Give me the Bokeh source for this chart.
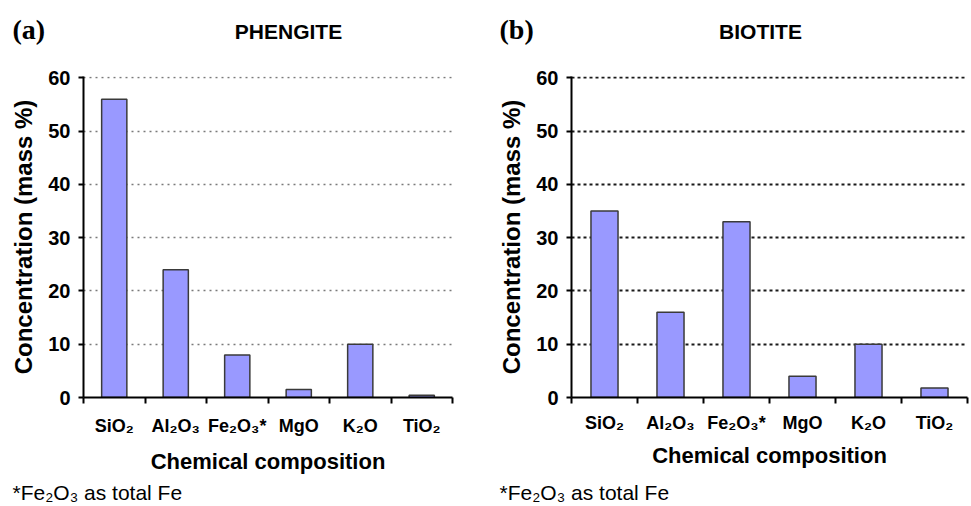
from bokeh.plotting import figure
from bokeh.layouts import row, column
from bokeh.models import Range1d, FixedTicker, Label
from bokeh.embed import file_html
from bokeh.resources import INLINE

# Oxide labels (shared by both minerals)
oxides = ["SiO₂", "Al₂O₃", "Fe₂O₃*", "MgO", "K₂O", "TiO₂"]

# Concentration (mass %)
phengite = [56, 24, 8, 1.5, 10, 0.4]
biotite = [35, 16, 33, 4, 10, 1.8]

y_ticks = [0, 10, 20, 30, 40, 50, 60]

W = 971
HEADER_H = 50
FOOTER_H = 30
PANEL_H = 506 - HEADER_H - FOOTER_H

BAR_FILL = "#9999ff"
BAR_LINE = "#3a3a3a"
SANS = "Liberation Sans"
SERIF = "Liberation Serif"


def strip(height):
    """A blank full-width strip whose data units are pixels, used for free text."""
    s = figure(width=W, height=height, output_backend="svg", toolbar_location=None,
               x_range=Range1d(0, W), y_range=Range1d(0, height),
               x_axis_location=None, y_axis_location=None,
               min_border=0, min_border_left=0, min_border_right=0,
               min_border_top=0, min_border_bottom=0)
    s.outline_line_color = None
    s.xgrid.grid_line_color = None
    s.ygrid.grid_line_color = None
    return s


def panel(values, width, borders, grid_color, grid_dash, grid_width, x_standoffs):
    left, right, top, bottom = borders
    p = figure(width=width, height=PANEL_H, output_backend="svg", toolbar_location=None,
               x_range=Range1d(0, len(oxides)), y_range=Range1d(0, 60.25),
               min_border_left=left, min_border_right=right,
               min_border_top=top, min_border_bottom=bottom)
    p.outline_line_color = None

    centers = [i + 0.5 for i in range(len(oxides))]
    p.vbar(x=centers, top=values, width=0.41, bottom=0,
           fill_color=BAR_FILL, line_color=BAR_LINE, line_width=1.5)

    # y axis
    yax = p.yaxis[0]
    yax.ticker = FixedTicker(ticks=y_ticks)
    yax.axis_line_width = 2
    yax.axis_line_color = "black"
    yax.major_tick_out = 5
    yax.major_tick_in = 0
    yax.major_tick_line_width = 2
    yax.minor_tick_line_color = None
    yax.major_label_text_font = SANS
    yax.major_label_text_font_style = "bold"
    yax.major_label_text_font_size = "20px"
    yax.major_label_text_color = "black"
    yax.major_label_standoff = 8
    yax.axis_label = "Concentration (mass %)"
    yax.axis_label_text_font = SANS
    yax.axis_label_text_font_style = "bold"
    yax.axis_label_text_font_size = "24px"
    yax.axis_label_text_color = "black"
    yax.axis_label_standoff = 8

    # x axis: labels at bar centres, ticks on category boundaries
    xax = p.xaxis[0]
    xax.ticker = FixedTicker(ticks=centers, minor_ticks=list(range(len(oxides) + 1)))
    xax.major_label_overrides = {c: name for c, name in zip(centers, oxides)}
    xax.axis_line_width = 2
    xax.axis_line_color = "black"
    xax.major_tick_out = 0
    xax.major_tick_in = 0
    xax.minor_tick_out = 6
    xax.minor_tick_in = 0
    xax.minor_tick_line_width = 2
    xax.minor_tick_line_color = "black"
    xax.major_label_text_font = SANS
    xax.major_label_text_font_style = "bold"
    xax.major_label_text_font_size = "18px"
    xax.major_label_text_color = "black"
    xax.major_label_standoff = x_standoffs[0]
    xax.axis_label = "Chemical composition"
    xax.axis_label_text_font = SANS
    xax.axis_label_text_font_style = "bold"
    xax.axis_label_text_font_size = "22px"
    xax.axis_label_text_color = "black"
    xax.axis_label_standoff = x_standoffs[1]

    p.xgrid.grid_line_color = None
    p.ygrid.ticker = FixedTicker(ticks=y_ticks)
    p.ygrid.grid_line_color = grid_color
    p.ygrid.grid_line_dash = grid_dash
    p.ygrid.grid_line_width = grid_width
    return p


# header: panel tags and mineral names
header = strip(HEADER_H)
for tx, ttl_x, tag, ttl in [(12, 288, "(a)", "PHENGITE"), (499, 760, "(b)", "BIOTITE")]:
    header.add_layout(Label(x=tx, y=HEADER_H - 29, text=tag, text_font=SERIF,
                            text_font_style="bold", text_font_size="28px",
                            text_baseline="middle", text_color="black"))
    header.add_layout(Label(x=ttl_x, y=HEADER_H - 31, text=ttl, text_font=SANS,
                            text_font_style="bold", text_font_size="21px",
                            text_align="center", text_baseline="middle",
                            text_color="black"))

# footer: note on iron
footer = strip(FOOTER_H)
for fx in (12, 499):
    footer.add_layout(Label(x=fx, y=14, text="*Fe₂O₃ as total Fe",
                            text_font=SANS, text_font_size="21px",
                            text_baseline="middle", text_color="black"))

pa = panel(phengite, 490, (83, 38, 76 - HEADER_H, 109 - FOOTER_H),
           "#7a7a7a", "2 4", 1.5, (12, 10))
pb = panel(biotite, 481, (81, 4, 60 - HEADER_H, 105 - FOOTER_H),
           "#1a1a1a", "3 3", 2, (9, 7))

layout = column(header, row(pa, pb), footer)
open("out.html", "w").write(file_html(layout, INLINE))
